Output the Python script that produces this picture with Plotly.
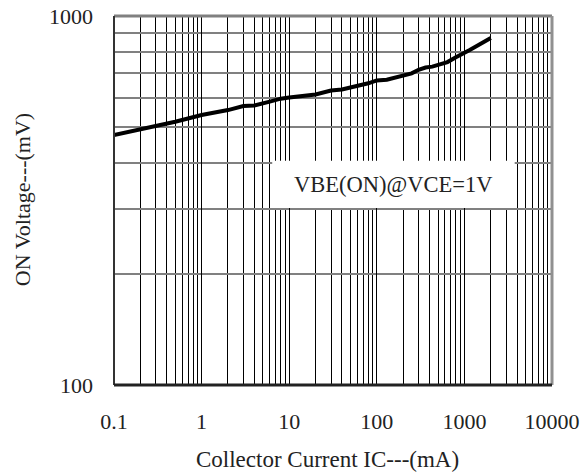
import plotly.graph_objects as go

# Data
ic_ma = [0.1, 0.2, 0.3, 0.5, 1, 2, 3, 4, 6, 8, 10, 20, 30, 40, 80, 100, 130,
         200, 250, 300, 360, 430, 520, 640, 800, 960, 1150, 1500, 2000]
vbe_mv = [476, 493, 503, 517, 539, 556, 570, 572, 586, 597, 601, 613, 628, 632,
          657, 669, 672, 692, 699, 715, 725, 729, 741, 750, 773, 789, 809, 838, 872]

x_major = [0.1, 1, 10, 100, 1000, 10000]
x_major_labels = ["0.1", "1", "10", "100", "1000", "10000"]
x_minor = [m * d for d in [0.1, 1, 10, 100, 1000] for m in range(2, 10)]
y_major = [100, 1000]
y_major_labels = ["100", "1000"]
y_minor = [200, 300, 400, 500, 600, 700, 800, 900]

label_text = "VBE(ON)@VCE=1V"
x_title = "Collector Current IC---(mA)"
y_title = "ON Voltage---(mV)"

FONT = "Liberation Serif, Times New Roman, serif"

fig = go.Figure()
fig.add_trace(go.Scatter(x=ic_ma, y=vbe_mv, mode="lines",
                         line=dict(color="black", width=4), showlegend=False,
                         hoverinfo="skip"))

fig.update_layout(
    width=583, height=475,
    margin=dict(l=114, r=31, t=16, b=90, autoexpand=False),
    paper_bgcolor="white", plot_bgcolor="white",
    font=dict(family=FONT, size=21, color="#222"),
    xaxis=dict(type="log", range=[-1, 4], tickvals=x_major, ticktext=x_major_labels,
               showgrid=True, gridcolor="black", gridwidth=1, ticks="",
               showline=False, zeroline=False, ticklabelstandoff=21, automargin=False,
               tickfont=dict(family=FONT, size=22, color="#222"),
               minor=dict(tickvals=x_minor, showgrid=True, gridcolor="black",
                          gridwidth=1, ticks="")),
    yaxis=dict(type="log", range=[2, 3], tickvals=y_major, ticktext=y_major_labels,
               showgrid=False, ticks="", showline=False, zeroline=False,
               ticklabelstandoff=20, automargin=False,
               tickfont=dict(family=FONT, size=22, color="#222"),
               minor=dict(tickvals=y_minor, showgrid=True, gridcolor="#808080",
                          gridwidth=2, ticks="")),
)

# White label box covering the grid
fig.add_shape(type="rect", xref="x", yref="y", x0=6.4, x1=3750, y0=302, y1=405,
              fillcolor="white", line=dict(width=0), layer="above")
fig.add_annotation(xref="x", yref="y", x=(0.806 + 3.574) / 2, y=2.544,
                   text=label_text, showarrow=False,
                   font=dict(family=FONT, size=22.5, color="#222"))

# Frame
fig.add_shape(type="line", xref="paper", yref="paper", x0=0, x1=1, y0=1, y1=1,
              line=dict(color="#808080", width=3), layer="above")
fig.add_shape(type="line", xref="paper", yref="paper", x0=1, x1=1, y0=0, y1=1,
              line=dict(color="#909090", width=3), layer="above")
fig.add_shape(type="line", xref="paper", yref="paper", x0=0, x1=0, y0=0, y1=1,
              line=dict(color="#333333", width=2), layer="above")
fig.add_shape(type="line", xref="paper", yref="paper", x0=0, x1=1, y0=0, y1=0,
              line=dict(color="#222222", width=3), layer="above")

# Axis titles
fig.add_annotation(xref="paper", yref="paper", x=(327 - 114) / 438, y=-75 / 369,
                   yanchor="middle", text=x_title, showarrow=False,
                   font=dict(family=FONT, size=23, color="#222"))
fig.add_annotation(xref="paper", yref="paper", x=(22 - 114) / 438, y=0.501,
                   xanchor="center", yanchor="middle", textangle=-90, text=y_title,
                   showarrow=False, font=dict(family=FONT, size=22, color="#222"))

fig.write_html("out.html", config={"displayModeBar": False},
               post_script="document.body.style.margin='0';document.body.style.overflow='hidden';")
